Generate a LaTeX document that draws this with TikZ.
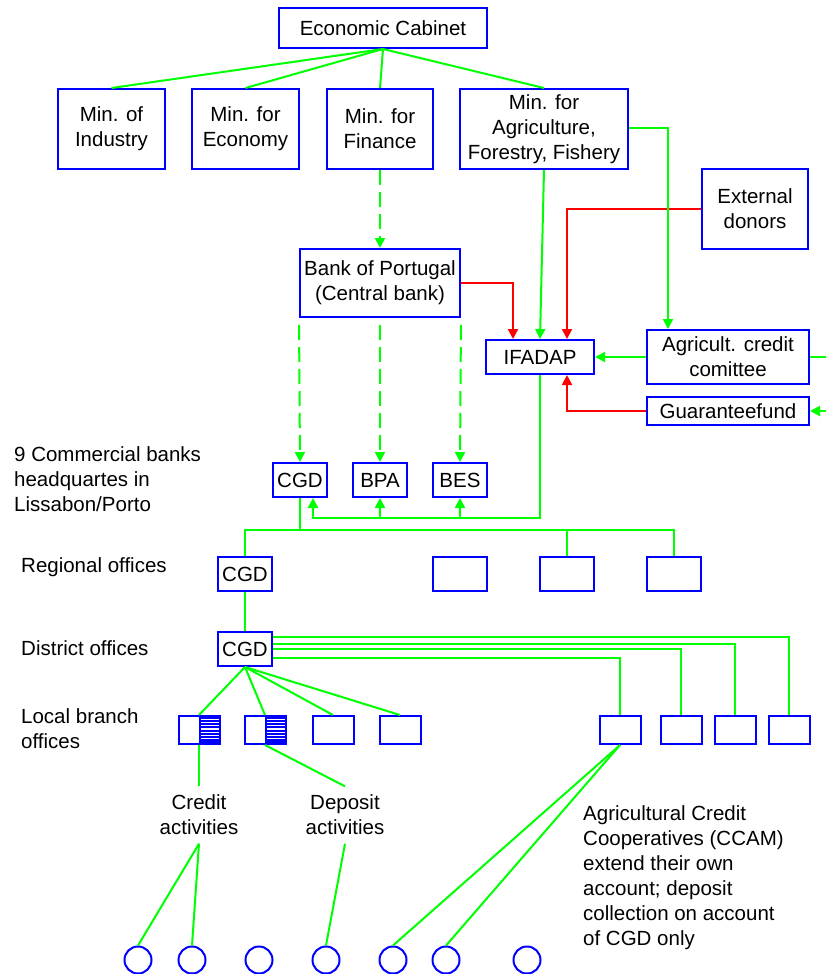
\documentclass[tikz,border=0pt]{standalone}
\usepackage{fontspec}
\setmainfont{Liberation Sans}
\usetikzlibrary{arrows.meta,calc}
\definecolor{gr}{RGB}{0,255,0}
\definecolor{bl}{RGB}{0,0,255}
\definecolor{rd}{RGB}{255,0,0}
\newcommand{\fsz}{\fontsize{20.5}{25}\selectfont}
\begin{document}
\begin{tikzpicture}[x=1pt,y=-1pt,
 bx/.style={draw=bl,line width=2pt,inner sep=0pt,align=center,font=\fsz,fill=white},
 lbl/.style={inner sep=0pt,align=left,font=\fsz,anchor=west},
 gl/.style={draw=gr,line width=2pt},
 rl/.style={draw=rd,line width=2pt},
 tip/.style={-{Triangle[length=10pt,width=10pt]}},
 dsh/.style={dash pattern=on 15pt off 7pt},
 crc/.style={circle,draw=bl,line width=2pt,minimum size=27pt,inner sep=0pt}
]
\useasboundingbox[fill=white] (0,0) rectangle (826,974);
% top level
\node[bx,minimum width=208pt,minimum height=40pt] (ec) at (383,28) {Economic Cabinet};
\node[bx,minimum width=107pt,minimum height=80pt] (ind) at (111.5,129) {Min. of\\Industry};
\node[bx,minimum width=107pt,minimum height=80pt] (eco) at (245.5,129) {Min. for\\Economy};
\node[bx,minimum width=106pt,minimum height=80pt] (fin) at (380,129) {Min. for\\Finance};
\node[bx,minimum width=168pt,minimum height=80pt] (agr) at (544,129) {Min. for\\Agriculture,\\Forestry, Fishery};
\node[bx,minimum width=106pt,minimum height=80pt] (ext) at (755,209) {External\\donors};
\node[bx,minimum width=160pt,minimum height=68pt] (bop) at (380,283) {Bank of Portugal\\(Central bank)};
\node[bx,minimum width=108pt,minimum height=34pt] (ifa) at (540,357) {IFADAP};
\node[bx,minimum width=162pt,minimum height=54pt] (acc) at (728,357) {Agricult. credit\\comittee};
\node[bx,minimum width=162pt,minimum height=28pt] (gua) at (728,411) {Guaranteefund};
% banks
\node[bx,minimum width=54pt,minimum height=34pt] (cgd1) at (300,480) {CGD};
\node[bx,minimum width=54pt,minimum height=34pt] (bpa) at (380,480) {BPA};
\node[bx,minimum width=54pt,minimum height=34pt] (bes) at (460,480) {BES};
\node[bx,minimum width=54pt,minimum height=34pt] (cgd2) at (245,574) {CGD};
\node[bx,minimum width=54pt,minimum height=34pt] (r1) at (460,574) {};
\node[bx,minimum width=54pt,minimum height=34pt] (r2) at (567,574) {};
\node[bx,minimum width=54pt,minimum height=34pt] (r3) at (674,574) {};
\node[bx,minimum width=54pt,minimum height=34pt] (cgd3) at (245,649) {CGD};
% local offices
\foreach \n/\xx in {l1/199,l2/265,l3/333,l4/400,l5/620,l6/681,l7/735,l8/789}{
  \node[bx,minimum width=41pt,minimum height=28pt] (\n) at (\xx,730) {};
}
\foreach \b in {l1,l2}{
  \fill[bl] (\b.north) rectangle (\b.south east);
  \foreach \k in {1,...,7}{
    \draw[white,line width=1.3pt] ($(\b.north)+(1.5,1+\k*3.25)$) -- ($(\b.north east)+(-2,1+\k*3.25)$);
  }
}
% circles
\foreach \n/\xx in {c1/138,c2/192,c3/259,c4/326,c5/393,c6/446,c7/527}{
  \node[crc] (\n) at (\xx,960) {};
}
% text labels
\node[font=\fsz,align=center,inner sep=0pt,minimum height=57pt] (cred) at (199,815) {Credit\\activities};
\node[font=\fsz,align=center,inner sep=0pt,minimum height=57pt] (dep) at (345,815) {Deposit\\activities};
\node[lbl] (t9) at (14,479) {9 Commercial banks\\headquartes in\\Lissabon/Porto};
\node[lbl] (treg) at (21,567) {Regional offices};
\node[lbl] (tdis) at (21,648) {District offices};
\node[lbl] (tloc) at (21,728.5) {Local branch\\offices};
\node[lbl] (tccam) at (583,878) {Agricultural Credit\\Cooperatives (CCAM)\\extend their own\\account; deposit\\collection on account\\of CGD only};
% connectors top
\foreach \m in {ind,eco,fin,agr}{ \draw[gl] (ec.south) -- (\m.north); }
\draw[gl,dsh,tip] (fin.south) -- (bop.north);
\draw[gl,dsh,dash phase=15pt,tip] (bop.south west) -- (cgd1.north);
\draw[gl,dsh,dash phase=15pt,tip] (bop.south) -- (bpa.north);
\draw[gl,dsh,dash phase=15pt,tip] (bop.south east) -- (bes.north);
\draw[rl,tip] (bop.east) -| ($(ifa.north)+(-27,0)$);
\draw[rl,tip] (ext.west) -| ($(ifa.north)+(27,0)$);
\draw[rl,tip] (gua.west) -| ($(ifa.south)+(27,0)$);
\draw[gl,tip] (agr.south) -- (ifa.north);
\draw[gl,tip] ($(agr.east)+(0,-1)$) -| ($(acc.north)+(-60,0)$);
\draw[gl,tip] (acc.west) -- (ifa.east);
\coordinate (accout) at (826,357);
\coordinate (guain) at (826,411);
\draw[gl] (acc.east) -- (accout);
\draw[gl,tip] (guain) -- (gua.east);
% IFADAP to banks
\coordinate (j1) at (540,518);
\coordinate (j2) at (313,518);
\draw[gl,line width=2.4pt,tip] (ifa.south) -- (j1) -- (j2) -- ($(cgd1.south)+(13,0)$);
\draw[gl,tip] (bpa.south |- j1) -- (bpa.south);
\draw[gl,tip] (bes.south |- j1) -- (bes.south);
% hierarchy
\coordinate (h2) at (0,530);
\draw[gl] (cgd1.south) -- (cgd1.south |- h2);
\draw[gl] (cgd2.north) |- (r3.north |- h2) -- (r3.north);
\draw[gl] (r2.north |- h2) -- (r2.north);
\draw[gl] (cgd2.south) -- (cgd3.north);
\draw[gl] ($(cgd3.east)+(0,-12)$) -| (l8.north);
\draw[gl] ($(cgd3.east)+(0,-5)$) -| (l7.north);
\draw[gl] (cgd3.east) -| (l6.north);
\draw[gl] ($(cgd3.east)+(0,9)$) -| (l5.north);
\foreach \m in {l1,l2,l3,l4}{ \draw[gl] (cgd3.south) -- (\m.north); }
\draw[gl] (l1.south) -- (cred.north);
\draw[gl] (l2.south) -- (dep.north);
\draw[gl] (cred.south) -- (c1.north);
\draw[gl] (cred.south) -- (c2.north);
\draw[gl] (dep.south) -- (c4.north);
\draw[gl] (l5.south) -- (c5.north);
\draw[gl] (l5.south) -- (c6.north);
\end{tikzpicture}
\end{document}
